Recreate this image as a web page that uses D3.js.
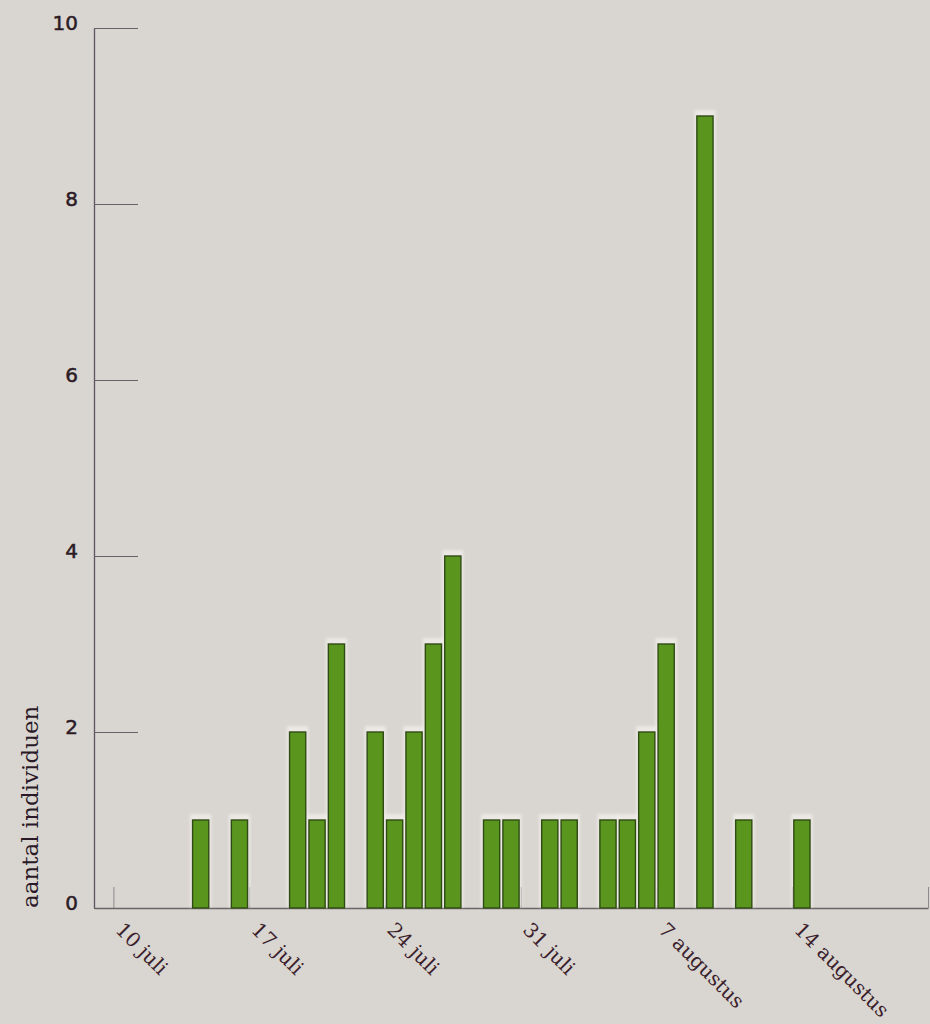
<!DOCTYPE html>
<html>
<head>
<meta charset="utf-8">
<script src="https://cdn.jsdelivr.net/npm/d3@7/dist/d3.min.js"></script>
<style>
  html, body { margin: 0; padding: 0; background: #d9d5d0; }
  svg { display: block; }
</style>
</head>
<body>
<svg id="chart" width="930" height="1024"></svg>
<script>
// Daily counts of observed individuals (days without observations are omitted)
const obsDates = [
  "2000-07-14", "2000-07-16", "2000-07-19", "2000-07-20", "2000-07-21",
  "2000-07-23", "2000-07-24", "2000-07-25", "2000-07-26", "2000-07-27",
  "2000-07-29", "2000-07-30", "2000-08-01", "2000-08-02", "2000-08-04",
  "2000-08-05", "2000-08-06", "2000-08-07", "2000-08-09", "2000-08-11",
  "2000-08-14"
];
const obsCounts = [1, 1, 2, 1, 3, 2, 1, 2, 3, 4, 1, 1, 1, 1, 1, 1, 2, 3, 9, 1, 1];

// Weekly x ticks and their labels
const xTickDates = ["2000-07-10", "2000-07-17", "2000-07-24", "2000-07-31", "2000-08-07", "2000-08-14", "2000-08-21"];
const xTickLabels = ["10 juli", "17 juli", "24 juli", "31 juli", "7 augustus", "14 augustus", ""];
const yTicks = [0, 2, 4, 6, 8, 10];
const yTitle = "aantal individuen";

const parse = d3.utcParse("%Y-%m-%d");
const svg = d3.select("#chart");

const x = d3.scaleUtc()
  .domain([parse("2000-07-09"), parse("2000-08-21")])
  .range([94, 928]);
const y = d3.scaleLinear().domain([0, 10]).range([908, 28]);

const data = obsDates.map((d, i) => ({ date: parse(d), count: obsCounts[i] }));

const defs = svg.append("defs");
defs.append("filter").attr("id", "soft")
  .attr("x", "-50%").attr("y", "-10%").attr("width", "200%").attr("height", "120%")
  .append("feGaussianBlur").attr("stdDeviation", 1.6);

// y axis: ticks reach into the plot, labels sit on the tick line
const yAxis = d3.axisLeft(y)
  .tickValues(yTicks)
  .tickSizeInner(-44)
  .tickSizeOuter(0)
  .tickPadding(16)
  .tickFormat(d3.format("d"));
const gy = svg.append("g").attr("transform", "translate(94,0)").call(yAxis);
gy.select(".domain").attr("stroke", "#5e5360").attr("stroke-width", 1.3);
gy.selectAll(".tick line").attr("stroke", "#6a6068").attr("stroke-width", 1.2);
gy.selectAll(".tick text")
  .attr("dy", "0.05em")
  .attr("fill", "#2b1b25")
  .attr("stroke", "#2b1b25")
  .attr("stroke-width", 0.5)
  .style("font-family", "'DejaVu Sans', sans-serif")
  .style("font-size", "20px");

// x axis: short upward ticks at each week
const xAxis = d3.axisBottom(x)
  .tickValues(xTickDates.map(parse))
  .tickSizeInner(-21)
  .tickSizeOuter(0)
  .tickFormat("");
const gx = svg.append("g").attr("transform", "translate(0,908)").call(xAxis);
gx.select(".domain").attr("stroke", "#6a6468").attr("stroke-width", 1.3);
gx.selectAll(".tick line").attr("stroke", "#8e878d").attr("stroke-width", 1);

// rotated week labels
svg.append("g").selectAll("text")
  .data(xTickDates.map((d, i) => ({ date: parse(d), label: xTickLabels[i] })))
  .join("text")
  .attr("transform", d => `translate(${x(d.date) + 1},931) rotate(45)`)
  .attr("fill", "#3b1f2d")
  .style("font-family", "'DejaVu Serif', serif")
  .style("font-size", "20px")
  .text(d => d.label);

// bars with a pale halo behind them
const dayW = d => x(d3.utcDay.offset(d.date, 1)) - x(d.date);
const halos = svg.append("g").attr("filter", "url(#soft)");
halos.selectAll("rect")
  .data(data)
  .join("rect")
  .attr("x", d => x(d.date) - 1)
  .attr("y", d => y(d.count) - 6)
  .attr("width", d => dayW(d) + 2)
  .attr("height", d => y(0) - y(d.count) + 5)
  .attr("fill", "#f1efec")
  .attr("opacity", 0.75);

svg.append("g").selectAll("rect")
  .data(data)
  .join("rect")
  .attr("x", d => x(d.date) + 1.6)
  .attr("y", d => y(d.count))
  .attr("width", d => dayW(d) - 3.2)
  .attr("height", d => y(0) - y(d.count))
  .attr("fill", "#5a951d")
  .attr("stroke", "#2f4b14")
  .attr("stroke-width", 1.4);

// y axis title
svg.append("text")
  .attr("transform", "translate(38,908) rotate(-90)")
  .attr("fill", "#2a1a28")
  .style("font-family", "'DejaVu Serif', serif")
  .style("font-size", "23px")
  .text(yTitle);
</script>
</body>
</html>
